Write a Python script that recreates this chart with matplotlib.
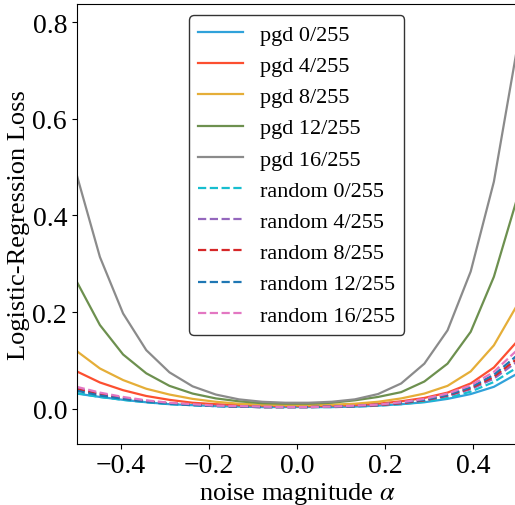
import matplotlib
matplotlib.use("Agg")
import matplotlib.pyplot as plt
import numpy as np

plt.rcParams["font.family"] = ["Liberation Serif", "DejaVu Serif"]
plt.rcParams["mathtext.fontset"] = "stix"

# noise magnitudes (20 evaluation points)
alpha = np.linspace(-0.5, 0.5, 20)

pgd_labels = ["pgd 0/255", "pgd 4/255", "pgd 8/255", "pgd 12/255", "pgd 16/255"]
pgd_0 = [0.031, 0.024, 0.018, 0.013, 0.009, 0.007, 0.005, 0.004, 0.003, 0.003,
         0.003, 0.003, 0.004, 0.006, 0.009, 0.013, 0.020, 0.030, 0.045, 0.072]
pgd_4 = [0.077, 0.054, 0.038, 0.026, 0.018, 0.012, 0.009, 0.007, 0.006, 0.005,
         0.005, 0.006, 0.007, 0.010, 0.015, 0.022, 0.033, 0.052, 0.085, 0.139]
pgd_8 = [0.119, 0.083, 0.059, 0.041, 0.029, 0.020, 0.014, 0.010, 0.008, 0.007,
         0.007, 0.008, 0.010, 0.014, 0.021, 0.031, 0.047, 0.077, 0.131, 0.214]
pgd_12 = [0.263, 0.173, 0.112, 0.073, 0.047, 0.031, 0.021, 0.015, 0.011, 0.010,
          0.010, 0.012, 0.017, 0.024, 0.034, 0.056, 0.093, 0.159, 0.273, 0.435]
pgd_16 = [0.484, 0.314, 0.197, 0.121, 0.075, 0.046, 0.029, 0.019, 0.014, 0.012,
          0.012, 0.014, 0.019, 0.030, 0.052, 0.093, 0.162, 0.284, 0.470, 0.746]

rand_labels = ["random 0/255", "random 4/255", "random 8/255", "random 12/255", "random 16/255"]
rand_0 = [0.032, 0.024, 0.018, 0.013, 0.009, 0.007, 0.005, 0.004, 0.003, 0.003,
          0.003, 0.003, 0.004, 0.006, 0.009, 0.014, 0.022, 0.035, 0.055, 0.085]
rand_4 = [0.042, 0.031, 0.022, 0.016, 0.011, 0.008, 0.006, 0.004, 0.003, 0.003,
          0.003, 0.004, 0.005, 0.007, 0.011, 0.017, 0.026, 0.040, 0.062, 0.097]
rand_8 = [0.040, 0.029, 0.021, 0.015, 0.011, 0.008, 0.006, 0.004, 0.003, 0.003,
          0.003, 0.004, 0.005, 0.007, 0.011, 0.017, 0.027, 0.042, 0.066, 0.103]
rand_12 = [0.037, 0.027, 0.020, 0.014, 0.010, 0.007, 0.005, 0.004, 0.003, 0.003,
           0.003, 0.004, 0.005, 0.008, 0.012, 0.018, 0.028, 0.044, 0.070, 0.110]
rand_16 = [0.045, 0.033, 0.024, 0.017, 0.012, 0.009, 0.006, 0.005, 0.004, 0.003,
           0.003, 0.004, 0.006, 0.008, 0.013, 0.020, 0.031, 0.048, 0.076, 0.121]

pgd_colors = ["#30a2da", "#fc4f30", "#e5ae38", "#6d904f", "#8b8b8b"]
rand_colors = ["tab:cyan", "tab:purple", "tab:red", "tab:blue", "tab:pink"]

fig = plt.figure(figsize=(5.15, 5.06), dpi=100)
ax = fig.add_axes([0.149, 0.121, 0.855, 0.869])

for lab, ys, c in zip(pgd_labels, [pgd_0, pgd_4, pgd_8, pgd_12, pgd_16], pgd_colors):
    ax.plot(alpha, ys, color=c, lw=1.6, label=lab)
for lab, ys, c in zip(rand_labels, [rand_0, rand_4, rand_8, rand_12, rand_16], rand_colors):
    ax.plot(alpha, ys, color=c, lw=1.6, ls="--", label=lab)

ax.set_xlim(-0.5, 0.5)
ax.set_ylim(-0.073, 0.838)
ax.set_xticks([-0.4, -0.2, 0.0, 0.2, 0.4])
ax.set_yticks([0.0, 0.2, 0.4, 0.6, 0.8])
ax.tick_params(labelsize=20)
ax.set_xlabel(r"noise magnitude $\alpha$", fontsize=19, labelpad=1)
ax.set_ylabel("Logistic-Regression Loss", fontsize=19, labelpad=2)
ax.legend(loc="upper center", fontsize=16, edgecolor="black", borderaxespad=0.5,
          labelspacing=0.48, borderpad=0.4)

fig.savefig("out.png", dpi=100)
